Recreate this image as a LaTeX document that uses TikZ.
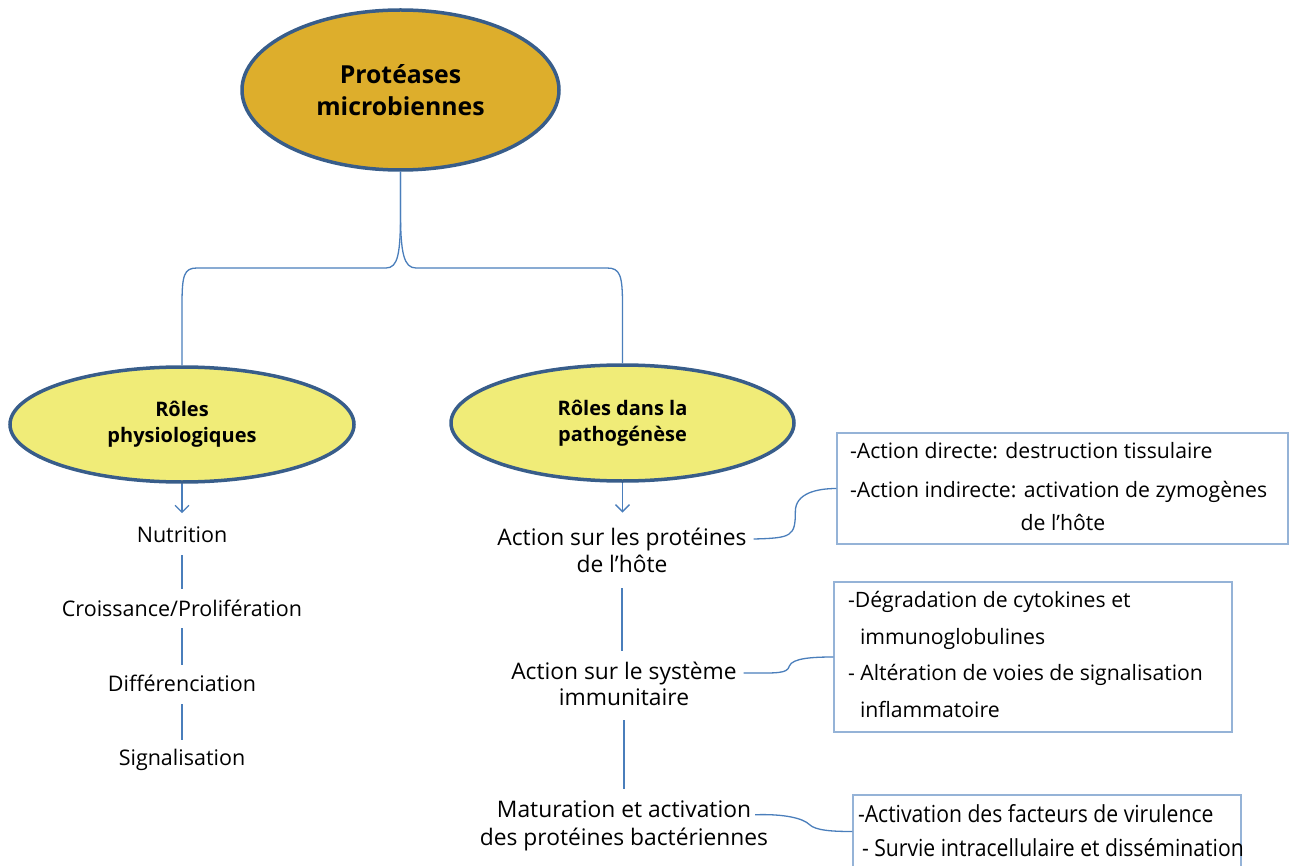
\documentclass[tikz,border=0pt]{standalone}
\usepackage{fontspec}
\setmainfont{Open Sans}
\newfontfamily\condfont[FakeStretch=0.9]{Open Sans}
\usetikzlibrary{shapes.geometric,arrows.meta}
\definecolor{gold}{HTML}{DDAE2C}
\definecolor{ylw}{HTML}{F0EC78}
\definecolor{edgec}{HTML}{385D8A}
\definecolor{connc}{HTML}{4A7EBB}
\definecolor{boxc}{HTML}{95B3D7}
\begin{document}
\begin{tikzpicture}[x=1pt,y=-1pt,
  bubble/.style={ellipse, draw=edgec, line width=3.5pt, inner sep=0pt, align=center},
  txt/.style={inner sep=0pt, outer sep=0pt, anchor=base, font=\fontsize{21.5}{26}\selectfont},
  rtxt/.style={inner sep=0pt, outer sep=0pt, anchor=base, font=\fontsize{22.8}{27}\selectfont},
  btxt/.style={inner sep=0pt, outer sep=0pt, anchor=base west, font=\fontsize{21.2}{24}\selectfont},
  ctxt/.style={inner sep=0pt, outer sep=0pt, anchor=base west, font=\condfont\fontsize{23.5}{26}\selectfont},
  infobox/.style={draw=boxc, line width=1.3pt, rectangle, inner sep=0pt},
  link/.style={draw=connc, line width=1.3pt},
  arr/.style={link, -{Straight Barb[length=7pt,width=14pt]}}]
\useasboundingbox (0,0) rectangle (1289,866);

% ellipses
\node[bubble, fill=gold, minimum width=317pt, minimum height=160pt,
      font=\bfseries\fontsize{24.8}{32}\selectfont] (top) at (400.5,90) {Protéases\\microbiennes};
\node[bubble, fill=ylw, minimum width=344pt, minimum height=115pt,
      font=\bfseries\fontsize{20}{26}\selectfont] (phy) at (182,424.5) {Rôles\\physiologiques};
\node[bubble, fill=ylw, minimum width=343pt, minimum height=116pt,
      font=\bfseries\fontsize{20}{26}\selectfont] (pat) at (622.5,423) {Rôles dans la\\pathogénèse};

% bracket
\coordinate (jl) at (386,268);
\coordinate (kl) at (197,268);
\coordinate (ll) at (182,305);
\coordinate (jr) at (416,268);
\coordinate (kr) at (607,268);
\coordinate (rr) at (622.5,305);
\draw[link] (top.south) -- ++(0,40) .. controls +(0,42) and +(12,0) .. (jl) -- (kl)
  .. controls +(-13,0) and +(0,-30) .. (ll) -- (phy.north);
\draw[link] (top.south) -- ++(0,40) .. controls +(0,42) and +(-12,0) .. (jr) -- (kr)
  .. controls +(13,0) and +(0,-30) .. (rr) -- (pat.north);

% left column
\node[txt] (nut) at (182,542) {Nutrition};
\node[txt] (cro) at (182,616) {Croissance/Prolifération};
\node[txt] (dif) at (182,691) {Différenciation};
\node[txt] (sig) at (182,765) {Signalisation};
\draw[arr, shorten >=13pt] (phy.south) -- (phy.south |- nut.north);
\draw[link, shorten <=13pt, shorten >=11pt] (nut.south) -- (cro.north);
\draw[link, shorten <=12pt, shorten >=10pt] (cro.south) -- (dif.north);
\draw[link, shorten <=13pt, shorten >=9pt] (dif.south) -- (sig.north);

% right column
\node[rtxt] (a1) at (622,545) {Action sur les protéines};
\node[rtxt] (a1b) at (622,572) {de l’hôte};
\node[rtxt] (a2) at (624,679) {Action sur le système};
\node[rtxt] (a2b) at (624,705) {immunitaire};
\node[rtxt] (a3) at (624,817) {Maturation et activation};
\node[rtxt] (a3b) at (624,845) {des protéines bactériennes};
\draw[arr, shorten >=15pt] (pat.south) -- (pat.south |- a1.north);
\draw[link, shorten <=16pt, shorten >=11pt] (a1b.south) -- (a1b.south |- a2.north);
\draw[link, shorten <=15pt, shorten >=11pt] (a2b.south) -- (a2b.south |- a3.north);

% boxes
\node[infobox, minimum width=451pt, minimum height=111pt] (b1) at (1062.5,488.5) {};
\node[infobox, minimum width=398pt, minimum height=150pt] (b2) at (1033,657) {};
\node[infobox, minimum width=388pt, minimum height=73pt] (b3) at (1047,831.5) {};

\node[btxt] (b1l1) at (850,458) {-Action directe: destruction tissulaire};
\node[btxt] (b1l2) at (850,497) {-Action indirecte: activation de zymogènes};
\node[btxt, anchor=base] (b1l3) at (1063,530) {de l’hôte};

\node[btxt] (b2l1) at (848,607) {-Dégradation de cytokines et};
\node[btxt] (b2l2) at (860,644) {immunoglobulines};
\node[btxt] (b2l3) at (848,680) {- Altération de voies de signalisation};
\node[btxt] (b2l4) at (860,717) {inflammatoire};

\node[ctxt] (b3l1) at (858,822) {-Activation des facteurs de virulence};
\node[ctxt] (b3l2) at (862,856) {- Survie intracellulaire et dissémination};

% side connectors
\draw[link] ([xshift=7pt]a1.east) .. controls +(38,-1) and +(0,25) .. ([shift={(-41,23)}]b1.west)
  .. controls +(0,-18) and +(-20,0) .. (b1.west);
\draw[link] ([xshift=7pt]a2.east) .. controls +(33,0) and +(-2,8) .. ([shift={(-44,9)}]b2.west)
  .. controls +(3,-8) and +(-20,0) .. (b2.west);
\draw[link] ([shift={(4,6)}]a3.east) .. controls +(30,-1) and +(-6,-6) .. ([shift={(-43,-7)}]b3.west)
  .. controls +(6,6) and +(-20,0) .. (b3.west);
\end{tikzpicture}
\end{document}
